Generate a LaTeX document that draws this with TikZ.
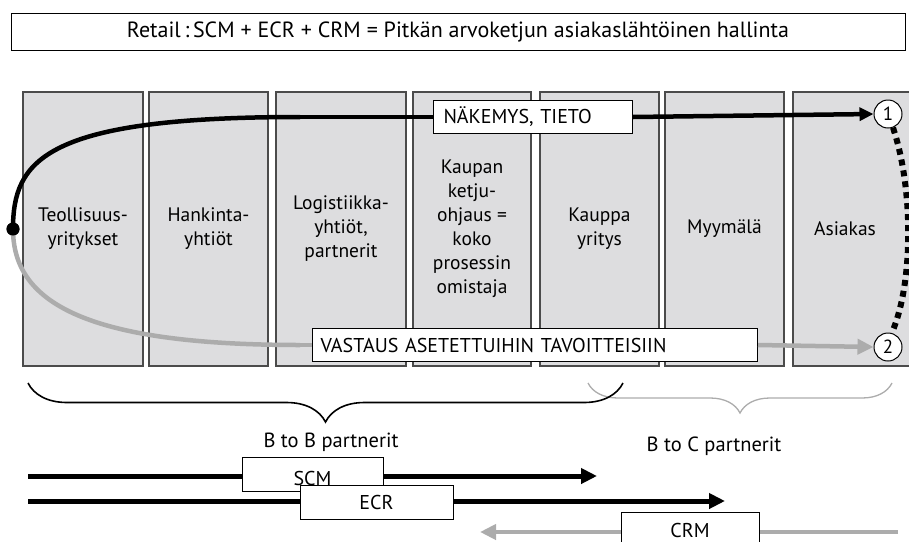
\documentclass[tikz,border=0pt]{standalone}
\usepackage{fontspec}
\setmainfont{PT Sans}
\usepackage{tikz}
\usetikzlibrary{positioning, arrows.meta, decorations.pathreplacing}
\definecolor{boxgray}{RGB}{221,221,223}
\definecolor{flowgray}{RGB}{172,172,172}
\definecolor{edgegray}{RGB}{75,75,75}
\tikzstyle{col}=[draw=edgegray, fill=boxgray, line width=1.2pt, minimum width=119pt, minimum height=274pt, align=center, inner sep=2pt, font=\fontsize{19.5}{24}\selectfont]
\tikzstyle{lbl}=[draw, fill=white, line width=1pt, minimum height=33pt, inner ysep=2pt, font=\fontsize{20}{22}\selectfont]
\tikzstyle{num}=[draw, fill=white, circle, minimum size=28pt, inner sep=0pt, line width=1pt, font=\fontsize{19}{20}\selectfont]
\tikzstyle{flow}=[line width=4.5pt]
\tikzstyle{txt}=[font=\fontsize{20.5}{22}\selectfont]
\tikzset{>={Triangle[length=16pt,width=15pt]}}

\begin{document}
\begin{tikzpicture}[x=1pt, y=-1pt]
\useasboundingbox (0,0) rectangle (909,541);
% the heading
\node[draw, line width=1pt, minimum width=894pt, minimum height=37pt, font=\fontsize{22}{24}\selectfont] (T) at (458,32) {Retail\,:\,SCM + ECR + CRM = Pitkän arvoketjun asiakaslähtöinen hallinta};
% the seven links of the chain
\node[col, minimum width=120pt] (K1) at (83,229) {Teollisuus-\\yritykset};
\node[col] (K2) at (208.5,229) {Hankinta-\\yhtiöt};
\node[col, minimum width=130pt] (K3) at (341,229) {Logistiikka-\\yhtiöt,\\partnerit};
\node[col, minimum width=118pt] (K4) at (472,229) {Kaupan\\ketju-\\ohjaus =\\koko\\prosessin\\omistaja};
\node[col] (K5) at (599.5,229) {Kauppa\\yritys};
\node[col] (K6) at (724.5,229) {Myymälä};
\node[col, minimum width=122pt] (K7) at (854,229) {Asiakas\kern18pt};
% the start point and the two end points
\node[circle, fill=black, inner sep=0pt, minimum size=13pt] (D) at (13,229) {};
\node[num] (N1) at (888,114) {1};
\node[num] (N2) at (888,347) {2};
\coordinate (U) at (300,117);
\coordinate (L) at (300,345);
% the two flows
\draw[flow] (D.center) .. controls (13,160) and (45,117) .. (U);
\draw[flow, flowgray] (D.center) .. controls (13,300) and (80,345) .. (L);
\node[lbl, anchor=west, text width=179pt, inner xsep=10pt, align=left] (V1) at (433,117) {NÄKEMYS, TIETO};
\node[lbl, anchor=west, text width=429pt, inner xsep=8pt, align=left] (V2) at (312,345) {VASTAUS ASETETTUIHIN TAVOITTEISIIN};
\draw[flow] (U) -- (V1.west);
\draw[flow, flowgray] (L) -- (V2.west);
\draw[flow, -{Triangle[length=14pt,width=13pt]}] (V1.east) -- (N1.west);
\draw[flow, flowgray, -{Triangle[length=16pt,width=15pt]}] (V2.east) -- (N2.west);
\draw[line width=6pt, dash pattern=on 6pt off 5pt] (N1.-70) .. controls (914,190) and (913,285) .. (N2.75);
\node[circle, fill=black, inner sep=0pt, minimum size=13pt] at (D) {};
% the braces
\draw[flowgray, line width=1.3pt, decorate, decoration={brace, mirror, amplitude=30pt}] (588,383) -- (892,383);
\draw[line width=1.6pt, decorate, decoration={brace, mirror, amplitude=39pt}] (28,383) -- (623,383);
\node[txt] (BB) at (331,442) {B to B partnerit};
\node[txt] (BC) at (714,446) {B to C partnerit};
% the three approaches
\coordinate (S0) at (28,476);
\coordinate (S1) at (597,476);
\coordinate (E0) at (28,501);
\coordinate (E1) at (725,501);
\coordinate (C0) at (898,532);
\coordinate (C1) at (480,532);
\draw[line width=5pt, ->] (S0) -- (S1);
\draw[line width=5pt, ->] (E0) -- (E1);
\draw[line width=4pt, flowgray, ->] (C0) -- (C1);
\node[lbl, minimum width=141pt, minimum height=34pt] (SCM) at (312.5,474) {\raisebox{-4pt}[14pt][0pt]{SCM}};
\node[lbl, minimum width=153pt, minimum height=34pt] (ECR) at (376.5,502) {ECR};
\node[lbl, minimum width=138pt, minimum height=46pt] (CRM) at (690,535) {\raisebox{5pt}[14pt][0pt]{CRM}};
\end{tikzpicture}
\end{document}
